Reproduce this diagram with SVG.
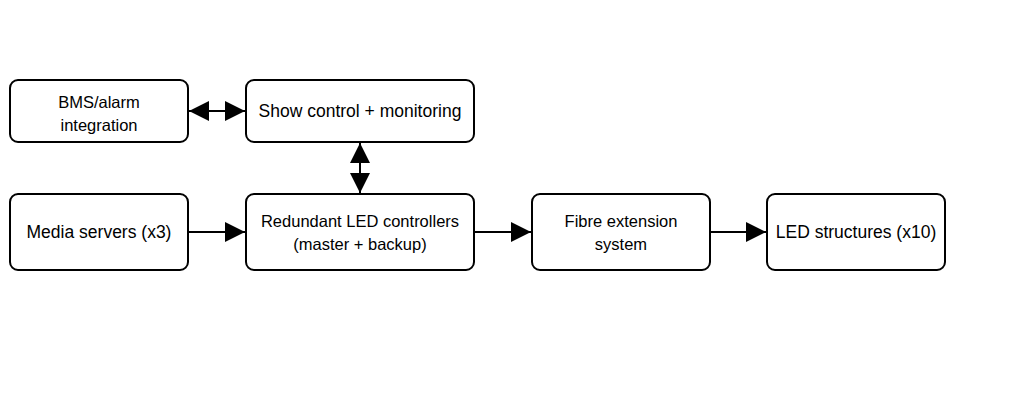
<svg xmlns="http://www.w3.org/2000/svg" width="1024" height="414" viewBox="0 0 1024 414">
<style>
.n rect{fill:#fff;stroke:#000;stroke-width:2}
.n text{font-family:"Liberation Sans",Arial,sans-serif;font-size:16.5px;fill:#000;text-anchor:middle}
.n text.b{font-size:17.5px}
.c line{stroke:#000;stroke-width:2}
</style>
<defs>
<marker id="a" viewBox="0 0 20 20" refX="20" refY="10" markerWidth="20" markerHeight="20" markerUnits="userSpaceOnUse" orient="auto-start-reverse"><path d="M0,0 L20,10 L0,20 Z" fill="#000"/></marker>
</defs>
<rect width="1024" height="414" fill="#fff"/>
<g class="c">
<line x1="189" y1="111" x2="245" y2="111" marker-start="url(#a)" marker-end="url(#a)"/>
<line x1="360" y1="143" x2="360" y2="193" marker-start="url(#a)" marker-end="url(#a)"/>
<line x1="189" y1="232" x2="245" y2="232" marker-end="url(#a)"/>
<line x1="475" y1="232" x2="531" y2="232" marker-end="url(#a)"/>
<line x1="711" y1="232" x2="766" y2="232" marker-end="url(#a)"/>
</g>
<g id="bms" class="n"><rect x="10" y="80" width="178" height="62" rx="8"/><text x="99" y="108">BMS/alarm</text><text x="99" y="131">integration</text></g>
<g id="show" class="n"><rect x="246" y="80" width="228" height="62" rx="8"/><text class="b" x="360" y="117">Show control + monitoring</text></g>
<g id="media" class="n"><rect x="10" y="194" width="178" height="76" rx="8"/><text class="b" x="99" y="238">Media servers (x3)</text></g>
<g id="ctrl" class="n"><rect x="246" y="194" width="228" height="76" rx="8"/><text x="360" y="227">Redundant LED controllers</text><text x="360" y="250">(master + backup)</text></g>
<g id="fibre" class="n"><rect x="532" y="194" width="178" height="76" rx="8"/><text x="621" y="227">Fibre extension</text><text x="621" y="250">system</text></g>
<g id="led" class="n"><rect x="767" y="194" width="178" height="76" rx="8"/><text class="b" x="856" y="238">LED structures (x10)</text></g>
</svg>
